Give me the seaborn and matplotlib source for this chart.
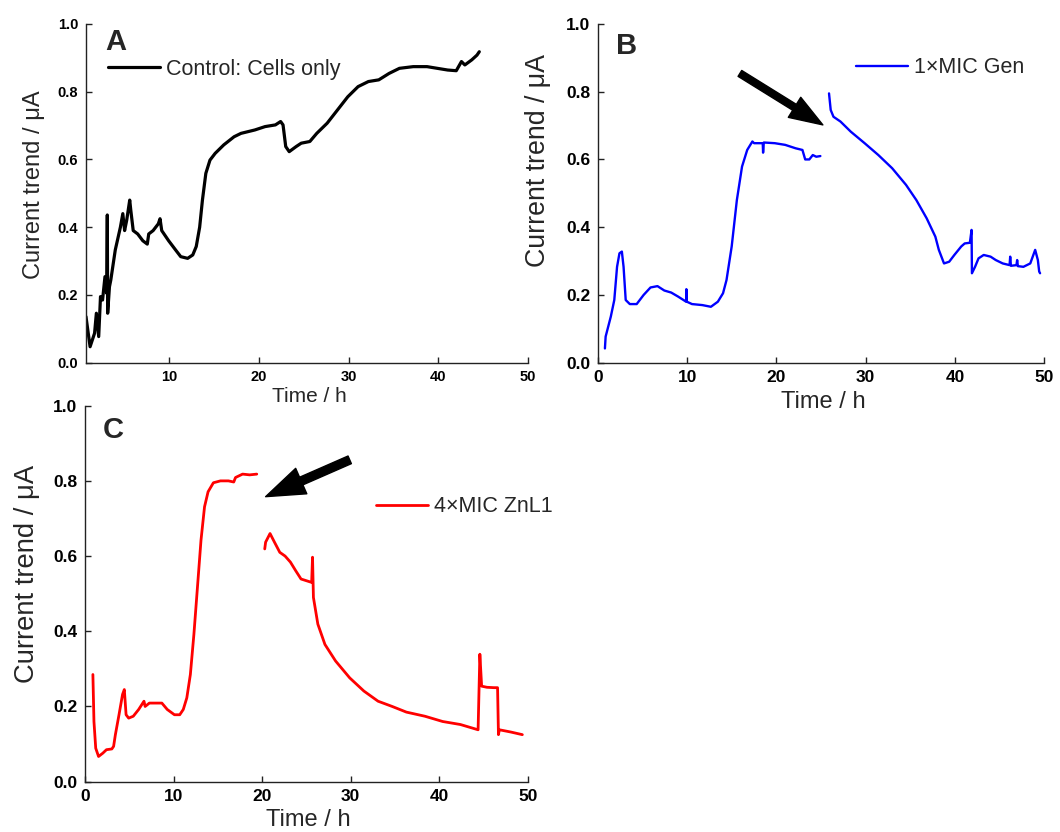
import numpy as np
import pandas as pd
import matplotlib
matplotlib.use("Agg")
import matplotlib.pyplot as plt
from matplotlib.patches import ArrowStyle
import seaborn as sns

# ---- Panel A: control, cells only (time in h, current in uA) ----
a_time = [0.70, 1.16, 1.66, 1.86, 2.12, 2.32, 2.55, 2.82, 3.01, 3.08, 3.12, 3.32,
          3.47, 3.97, 4.54, 4.81, 5.01, 5.24, 5.58, 5.70, 5.97, 6.47, 7.04, 7.54,
          7.70, 8.19, 8.77, 8.96, 9.15, 9.92, 10.69, 11.27, 12.04, 12.61, 13.0,
          13.38, 13.69, 14.07, 14.53, 15.11, 16.07, 17.22, 17.99, 19.53, 20.68,
          21.83, 22.41, 22.68, 22.98, 23.37, 24.14, 24.71, 25.67, 26.44, 27.6,
          28.75, 29.9, 31.05, 32.2, 33.36, 34.51, 35.66, 37.2, 38.74, 39.89,
          41.04, 42.0, 42.58, 42.96, 43.73, 44.31, 44.57]
a_current = [0.136, 0.047, 0.087, 0.146, 0.077, 0.195, 0.185, 0.254, 0.205, 0.436,
             0.146, 0.224, 0.244, 0.333, 0.40, 0.44, 0.39, 0.42, 0.48, 0.45, 0.39,
             0.38, 0.36, 0.35, 0.38, 0.39, 0.41, 0.425, 0.39, 0.36, 0.333, 0.313,
             0.308, 0.318, 0.343, 0.40, 0.48, 0.559, 0.598, 0.618, 0.643, 0.667,
             0.677, 0.687, 0.697, 0.702, 0.712, 0.702, 0.638, 0.623, 0.638, 0.648,
             0.653, 0.677, 0.707, 0.746, 0.785, 0.815, 0.83, 0.835, 0.854, 0.869,
             0.874, 0.874, 0.869, 0.864, 0.862, 0.889, 0.879, 0.894, 0.908, 0.918]

# ---- Panel B: 1xMIC gentamicin, before and after dosing ----
b_time_pre = [0.77, 0.85, 1.43, 1.82, 2.13, 2.40, 2.67, 2.86, 3.10, 3.56, 4.33,
              5.11, 5.88, 6.66, 7.43, 8.20, 8.98, 9.87, 9.90, 9.95, 10.53, 11.69,
              12.65, 13.43, 14.01, 14.40, 14.98, 15.56, 16.14, 16.72, 17.30, 17.49,
              18.46, 18.50, 18.58, 19.81, 20.98, 22.14, 22.91, 23.22, 23.68, 24.07,
              24.46, 24.92]
b_current_pre = [0.042, 0.077, 0.136, 0.185, 0.283, 0.323, 0.328, 0.283, 0.185,
                 0.173, 0.173, 0.200, 0.222, 0.226, 0.213, 0.207, 0.195, 0.180,
                 0.217, 0.180, 0.173, 0.170, 0.165, 0.180, 0.205, 0.244, 0.343,
                 0.480, 0.579, 0.628, 0.653, 0.648, 0.648, 0.620, 0.650, 0.648,
                 0.643, 0.633, 0.628, 0.600, 0.600, 0.613, 0.608, 0.610]
b_time_post = [25.89, 26.08, 26.39, 27.17, 28.33, 29.88, 31.42, 32.97, 34.52,
               35.68, 36.84, 37.81, 38.20, 38.78, 39.36, 39.94, 40.71, 41.10,
               41.68, 41.87, 41.91, 42.26, 42.65, 43.23, 44.00, 44.58, 45.36,
               46.13, 46.20, 46.28, 46.90, 46.98, 47.06, 47.68, 48.45, 49.00,
               49.30, 49.45, 49.55]
b_current_post = [0.795, 0.746, 0.726, 0.712, 0.682, 0.648, 0.613, 0.574, 0.525,
                  0.480, 0.426, 0.372, 0.333, 0.293, 0.298, 0.318, 0.343, 0.352,
                  0.354, 0.392, 0.264, 0.283, 0.308, 0.318, 0.313, 0.303, 0.293,
                  0.288, 0.313, 0.286, 0.288, 0.303, 0.285, 0.283, 0.293, 0.333,
                  0.303, 0.269, 0.264]

# ---- Panel C: 4xMIC ZnL1, before and after dosing ----
c_time_pre = [0.89, 1.01, 1.21, 1.53, 2.02, 2.42, 3.03, 3.23, 3.43, 3.84, 4.24,
              4.44, 4.64, 4.93, 5.45, 6.06, 6.66, 6.79, 7.27, 8.08, 8.68, 9.29,
              10.1, 10.7, 11.1, 11.5, 11.9, 12.3, 12.7, 13.1, 13.5, 13.9, 14.5,
              15.3, 16.2, 16.8, 17.0, 17.8, 18.6, 19.4]
c_current_pre = [0.285, 0.160, 0.089, 0.067, 0.076, 0.085, 0.087, 0.094, 0.125,
                 0.178, 0.232, 0.245, 0.178, 0.169, 0.174, 0.192, 0.214, 0.200,
                 0.209, 0.209, 0.209, 0.192, 0.178, 0.178, 0.192, 0.223, 0.285,
                 0.392, 0.517, 0.642, 0.731, 0.771, 0.795, 0.800, 0.800, 0.797,
                 0.809, 0.818, 0.816, 0.818]
c_time_post = [20.3, 20.4, 20.9, 21.4, 22.0, 22.6, 23.2, 23.8, 24.4, 25.6, 25.7,
               25.8, 26.3, 27.1, 28.3, 29.9, 31.5, 33.1, 34.7, 36.3, 38.4, 40.4,
               42.4, 44.4, 44.6, 44.8, 45.4, 46.2, 46.6, 46.7, 46.8, 48.1, 49.4]
c_current_post = [0.619, 0.637, 0.660, 0.637, 0.610, 0.600, 0.584, 0.561, 0.539,
                  0.530, 0.597, 0.490, 0.419, 0.365, 0.321, 0.276, 0.241, 0.214,
                  0.200, 0.185, 0.174, 0.160, 0.152, 0.138, 0.339, 0.254, 0.251,
                  0.250, 0.250, 0.125, 0.138, 0.132, 0.125]

y_ticks = [0.0, 0.2, 0.4, 0.6, 0.8, 1.0]
x_ticks_a = [10, 20, 30, 40, 50]
x_ticks_bc = [0, 10, 20, 30, 40, 50]

sns.set_theme(style="ticks")
plt.rcParams["font.family"] = ["Liberation Sans", "DejaVu Sans"]
plt.rcParams["axes.linewidth"] = 1.0
plt.rcParams["axes.edgecolor"] = "#222222"
plt.rcParams["xtick.direction"] = "in"
plt.rcParams["ytick.direction"] = "in"

fig = plt.figure(figsize=(10.6, 8.32), dpi=100)
ax_a = fig.add_axes([0.0811, 0.5641, 0.4170, 0.4071])
ax_b = fig.add_axes([0.5642, 0.5641, 0.4208, 0.4071])
ax_c = fig.add_axes([0.0802, 0.0605, 0.4176, 0.4519])


def style_axes(ax, xlim, xticks, tick_fs, xlabel_fs, ylabel_fs, ylab_pos, xlab_y):
    ax.set_xlim(*xlim)
    ax.set_ylim(0, 1.0)
    ax.set_xticks(xticks)
    ax.set_yticks(y_ticks)
    ax.set_yticklabels([f"{v:.1f}" for v in y_ticks])
    ax.set_xticklabels([str(v) for v in xticks])
    for lab in ax.get_xticklabels() + ax.get_yticklabels():
        lab.set_fontweight("bold")
        lab.set_fontsize(tick_fs)
    sns.despine(ax=ax)
    ax.tick_params(axis="both", which="major", direction="in", length=4.5,
                   width=1.0, pad=5.5, color="#222222", labelcolor="black",
                   bottom=True, left=True, top=False, right=False)
    ax.set_xlabel("Time / h", fontsize=xlabel_fs)
    ax.set_ylabel("Current trend / \u03bcA", fontsize=ylabel_fs)
    ax.yaxis.set_label_coords(*ylab_pos)
    ax.xaxis.set_label_coords(0.505, xlab_y)
    ax.xaxis.label.set_va("center")
    ax.yaxis.label.set_va("center")


def add_legend(ax, anchor):
    ax.legend(loc="center left", bbox_to_anchor=anchor, frameon=False,
              fontsize=15.5, handlelength=2.4, handletextpad=0.3,
              borderpad=0, borderaxespad=0)


# Panel A
sns.lineplot(x=a_time, y=a_current, ax=ax_a, color="black", linewidth=2.3,
             label="Control: Cells only")
style_axes(ax_a, (0.7, 50), x_ticks_a, 10.5, 15, 17, (-0.118, 0.525), -0.101)
add_legend(ax_a, (0.050, 0.867))
ax_a.text(0.043, 0.923, "A", transform=ax_a.transAxes, fontsize=21,
          fontweight="bold", va="baseline", ha="left")

# Panel B
sns.lineplot(x=b_time_pre, y=b_current_pre, ax=ax_b, color="#0000ff",
             linewidth=1.7, label="1\u00d7MIC Gen")
sns.lineplot(x=b_time_post, y=b_current_post, ax=ax_b, color="#0000ff",
             linewidth=1.7)
style_axes(ax_b, (0, 50), x_ticks_bc, 12.5, 17, 19.3, (-0.135, 0.596), -0.115)
add_legend(ax_b, (0.578, 0.870))
ax_b.text(0.040, 0.9115, "B", transform=ax_b.transAxes, fontsize=21,
          fontweight="bold", va="baseline", ha="left")
ax_b.annotate("", xy=(25.2, 0.702), xytext=(15.9, 0.854),
              arrowprops=dict(arrowstyle=ArrowStyle.Simple(head_length=24,
                                                           head_width=17,
                                                           tail_width=5),
                              mutation_scale=1, color="black",
                              shrinkA=0, shrinkB=0))

# Panel C
sns.lineplot(x=c_time_pre, y=c_current_pre, ax=ax_c, color="#ff0000",
             linewidth=2.0, label="4\u00d7MIC ZnL1")
sns.lineplot(x=c_time_post, y=c_current_post, ax=ax_c, color="#ff0000",
             linewidth=2.0)
style_axes(ax_c, (0, 50), x_ticks_bc, 12.5, 17, 19.7, (-0.131, 0.552), -0.102)
add_legend(ax_c, (0.658, 0.731))
ax_c.text(0.041, 0.913, "C", transform=ax_c.transAxes, fontsize=21,
          fontweight="bold", va="baseline", ha="left")
ax_c.annotate("", xy=(20.4, 0.758), xytext=(29.9, 0.856),
              arrowprops=dict(arrowstyle=ArrowStyle.Simple(head_length=28,
                                                           head_width=20,
                                                           tail_width=6),
                              mutation_scale=1, color="black",
                              shrinkA=0, shrinkB=0))

fig.savefig("out.png", dpi=100, facecolor="white")
